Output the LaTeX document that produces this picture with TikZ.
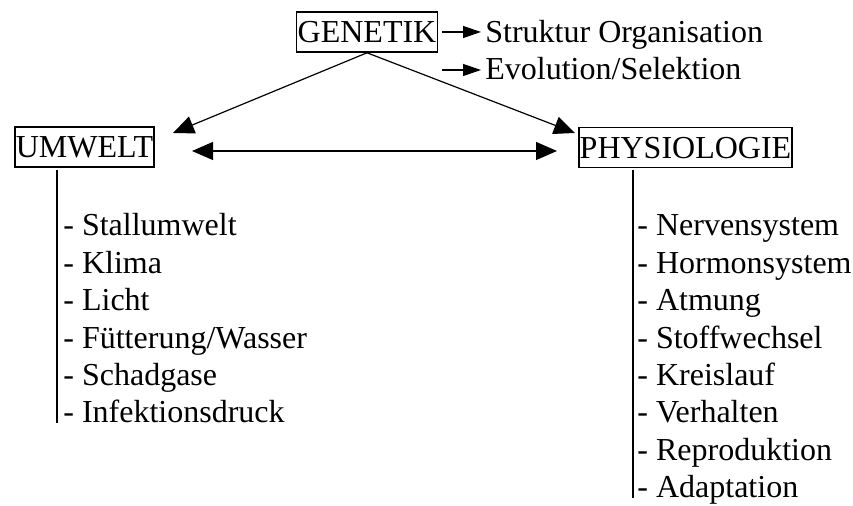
\documentclass[tikz,border=0pt]{standalone}
\usepackage{fontspec}
\setmainfont{Liberation Serif}
\usetikzlibrary{arrows.meta,positioning}

\begin{document}
\begin{tikzpicture}[x=0.5pt,y=-0.5pt,font=\fontsize{16}{18.7}\selectfont,
  box/.style={draw,line width=0.8pt,inner xsep=0.5pt,inner ysep=0pt,text height=15.5pt,text depth=4.5pt},
  big/.style={line width=0.6pt,-{Triangle[length=10.5pt,width=9pt]}},
  twoway/.style={line width=0.6pt,{Triangle[length=10.5pt,width=9pt]}-{Triangle[length=10.5pt,width=9pt]}},
  small/.style={line width=0.6pt,-{Triangle[length=9pt,width=6pt]}},
  item/.style={anchor=base west,inner sep=0pt}]
\useasboundingbox (0,0) rectangle (853,506);
\node[box] (G) at (367,32)      {GENETIK};
\node[box] (U) at (84.5,147)    {UMWELT};
\node[box] (P) at (685.5,147.5) {PHYSIOLOGIE};
\node[item] (S) at (485,43) {Struktur Organisation};
\node[item] (E) at (485,80) {Evolution/Selektion};
\coordinate (s1) at (442,32);  \coordinate (s2) at (481,32);
\coordinate (e1) at (442,70);  \coordinate (e2) at (481,70);
\coordinate (GU) at (173,133); \coordinate (GP) at (575,133);
\coordinate (UP1) at (192,151); \coordinate (UP2) at (557,151);
\coordinate (U1) at (57,170);  \coordinate (P1) at (633,170);
\draw[small] (s1) -- (s2);
\draw[small] (e1) -- (e2);
\draw[big] (G.south) -- (GU);
\draw[big] (G.south) -- (GP);
\draw[twoway] (UP1) -- (UP2);
\foreach \t [count=\i from 0] in {Stallumwelt,Klima,Licht,Fütterung/Wasser,Schadgase,Infektionsdruck}
  \node[item] (u\i) at (63,236+37.4*\i) {- \t};
\foreach \t [count=\i from 0] in {Nervensystem,Hormonsystem,Atmung,Stoffwechsel,Kreislauf,Verhalten,Reproduktion,Adaptation}
  \node[item] (p\i) at (637,236+37.4*\i) {- \t};
\draw[line width=0.65pt] (U1) -- (U1 |- u5.base);
\draw[line width=0.65pt] (P1) -- (P1 |- p7.base);
\end{tikzpicture}
\end{document}
